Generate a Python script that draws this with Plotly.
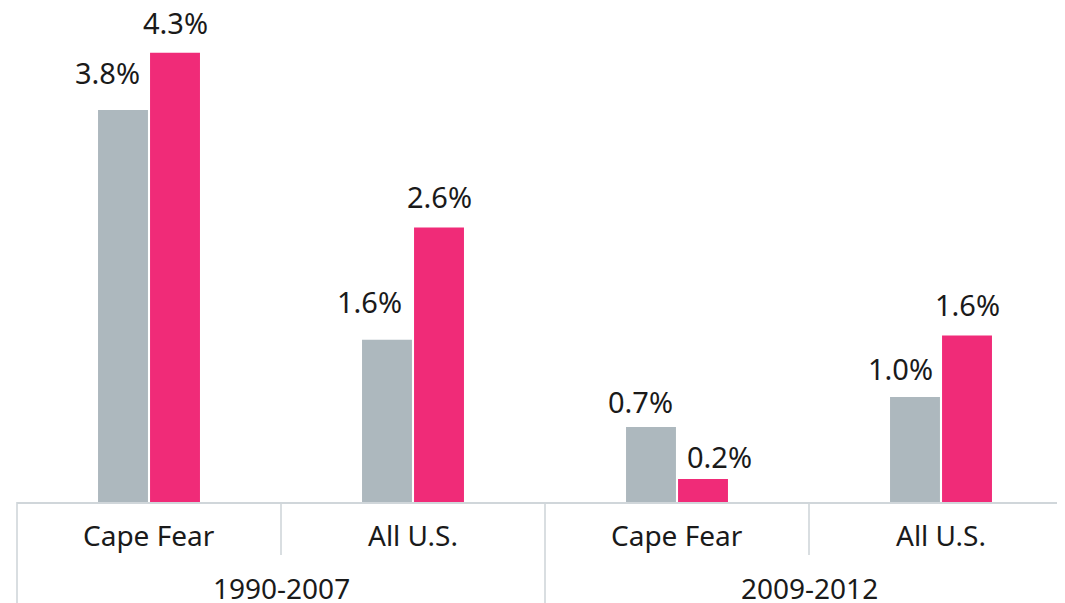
import plotly.graph_objects as go

# ---- data ----
periods = ["1990-2007", "2009-2012"]
regions = ["Cape Fear", "All U.S.", "Cape Fear", "All U.S."]
grey_values = [3.77, 1.56, 0.72, 1.01]
pink_values = [4.32, 2.64, 0.22, 1.60]

# ---- style ----
GREY = "#ADB8BE"
PINK = "#F02B78"
TEXT = "#1A1A1A"
LINE = "#D0D6DA"
FONT = "Noto Sans"
PAGE_OFF = 8            # default body margin of the html page
W, H = 1065 - PAGE_OFF, 603 - PAGE_OFF
ML, MB = 17 - PAGE_OFF, 101
x_range = [-0.5, -0.5 + (W - ML) / 264.0]
y_range = [0, (H - MB) / 104.0]

grey_dx = [-16, -18, -11, -15]
grey_dy = [27, 28, 15, 18]
pink_dx = [0, 0, 16, 0]
pink_dy = [20, 20, 12, 21]
DESC = 8  # approx distance between annotation box bottom and baseline
LBL = 29
BOXH = 34

xs = list(range(len(regions)))

fig = go.Figure()
fig.add_trace(go.Bar(x=xs, y=grey_values, marker=dict(color=GREY, line=dict(width=0)),
                     hoverinfo="skip", name="grey"))
fig.add_trace(go.Bar(x=xs, y=pink_values, marker=dict(color=PINK, line=dict(width=0)),
                     hoverinfo="skip", name="pink"))

ann = []
for i, v in enumerate(grey_values):
    ann.append(dict(x=i, y=v, xref="x", yref="y", text=f"{v:.1f}%", showarrow=False,
                    xanchor="center", yanchor="bottom", xshift=-26 + grey_dx[i],
                    yshift=grey_dy[i] - DESC, height=BOXH, valign="middle",
                    font=dict(size=LBL, color=TEXT, family=FONT)))
for i, v in enumerate(pink_values):
    ann.append(dict(x=i, y=v, xref="x", yref="y", text=f"{v:.1f}%", showarrow=False,
                    xanchor="center", yanchor="bottom", xshift=26 + pink_dx[i],
                    yshift=pink_dy[i] - DESC, height=BOXH, valign="middle",
                    font=dict(size=LBL, color=TEXT, family=FONT)))
for i, r in enumerate(regions):
    ann.append(dict(x=i, y=0, xref="x", yref="paper", text=r, showarrow=False,
                    xanchor="center", yanchor="middle", yshift=-33,
                    font=dict(size=28, color=TEXT, family=FONT)))
for j, p in enumerate(periods):
    ann.append(dict(x=2 * j + 0.5, y=0, xref="x", yref="paper", text=p, showarrow=False,
                    xanchor="center", yanchor="middle", yshift=-86, height=BOXH - 4,
                    valign="middle", font=dict(size=28, color=TEXT, family=FONT)))

plot_h = H - MB
def px(b):
    return (b - x_range[0]) / (x_range[1] - x_range[0])

shapes = []
for k in range(len(regions) + 1):
    b = k - 0.5
    outer = (k % 2 == 0)
    y1 = -MB / plot_h if outer else -53 / plot_h
    shapes.append(dict(type="line", xref="paper", yref="paper", x0=px(b), x1=px(b),
                       y0=0, y1=y1, line=dict(color=LINE, width=1.6)))

fig.update_layout(
    width=W, height=H,
    margin=dict(l=ML, r=0, t=0, b=MB),
    paper_bgcolor="white", plot_bgcolor="white",
    barmode="group", bargap=0.606, bargroupgap=0.04,
    showlegend=False,
    annotations=ann, shapes=shapes,
    xaxis=dict(range=x_range, showticklabels=False, showgrid=False, zeroline=False,
               showline=True, linecolor=LINE, linewidth=1.6, ticks=""),
    yaxis=dict(range=y_range, visible=False, showgrid=False, zeroline=False),
    font=dict(family=FONT, color=TEXT),
)

fig.write_html("out.html")
